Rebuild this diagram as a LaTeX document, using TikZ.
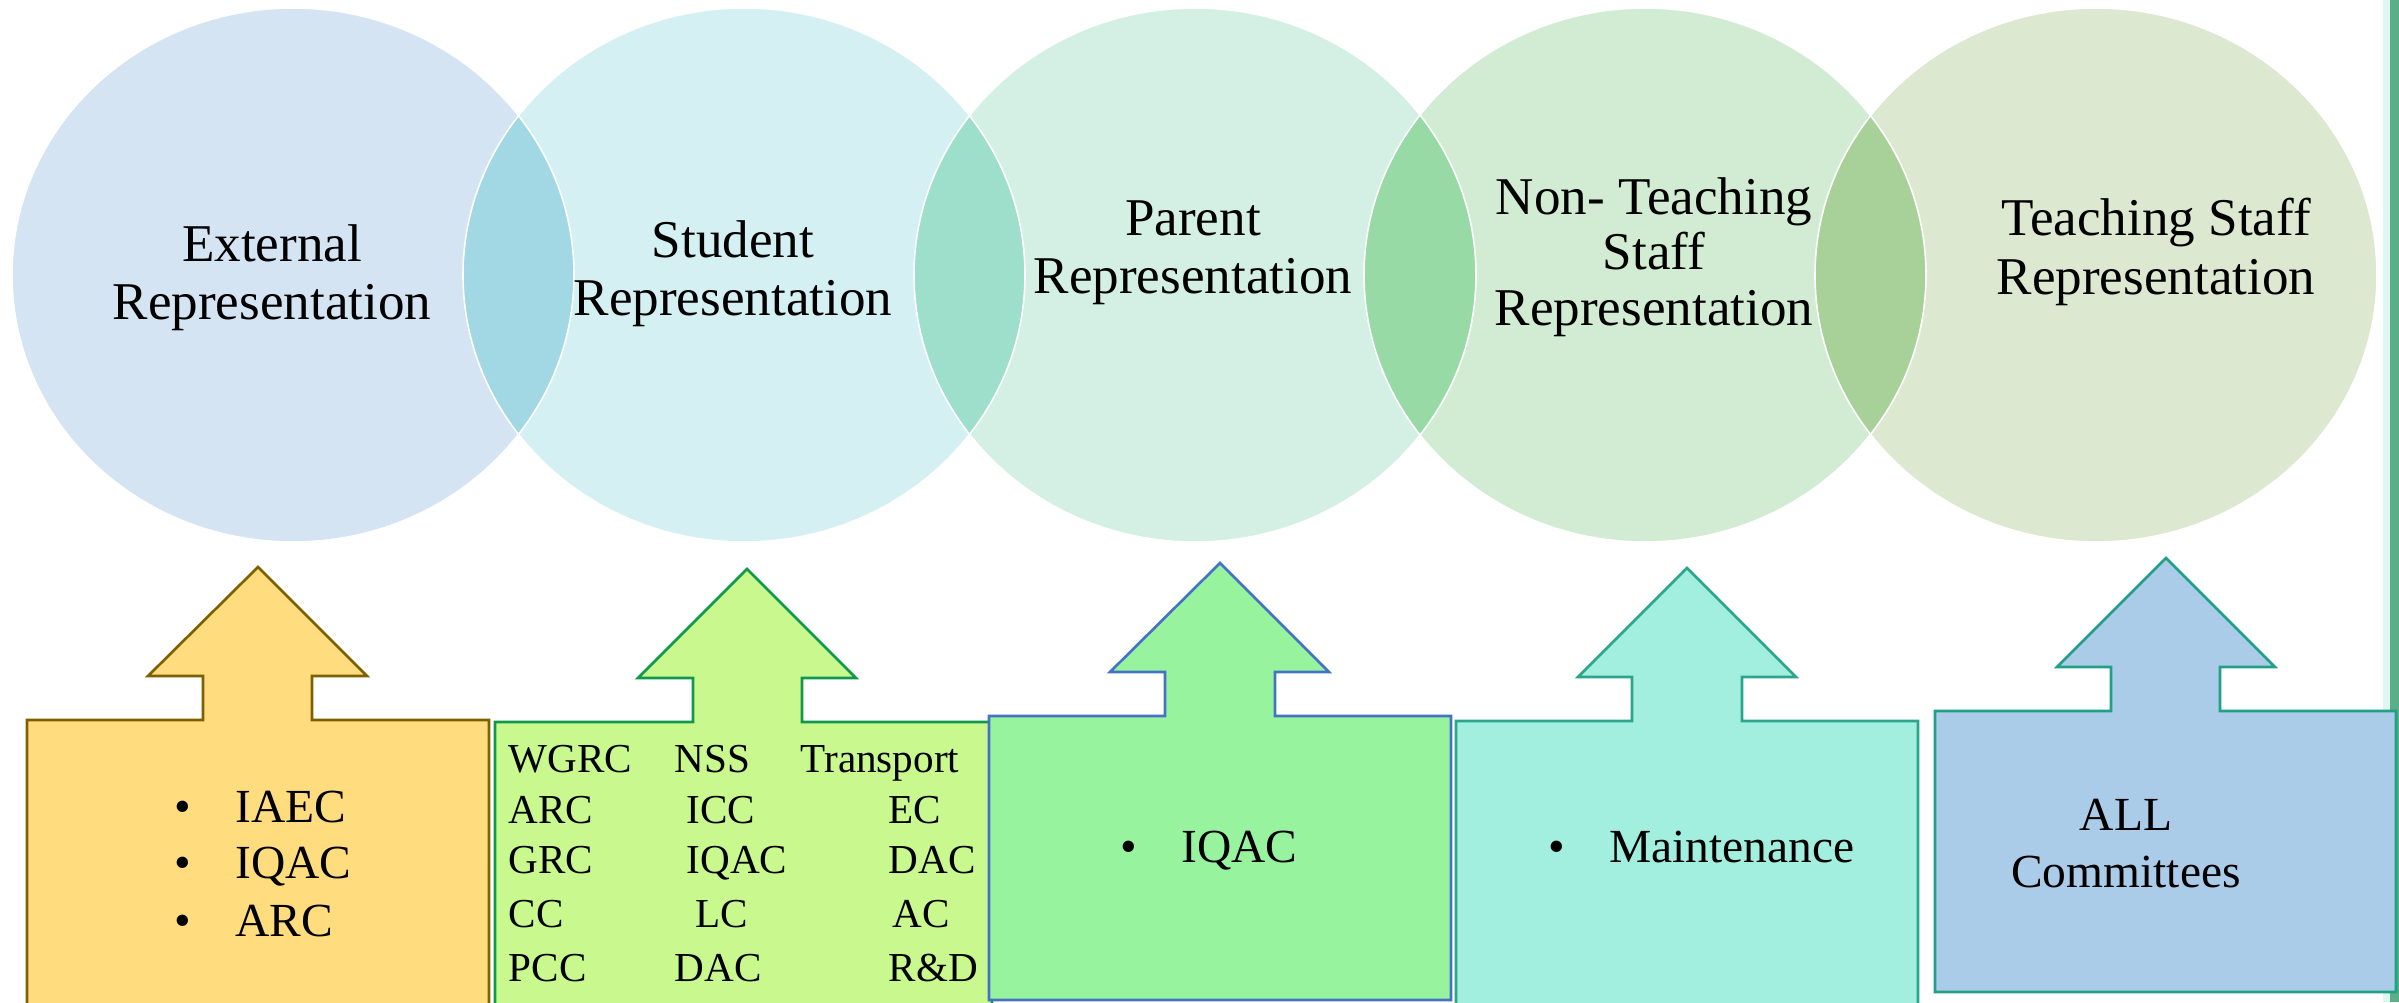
\documentclass[tikz,border=0pt]{standalone}
\usepackage{fontspec}
\setmainfont{Liberation Serif}
\definecolor{extfill}{HTML}{D4E4F2}
\definecolor{stufill}{HTML}{D4F0F2}
\definecolor{parfill}{HTML}{D4EFE3}
\definecolor{ntsfill}{HTML}{D2ECD3}
\definecolor{tsrfill}{HTML}{DCE8D0}
\definecolor{lensA}{HTML}{A2D8E4}
\definecolor{lensB}{HTML}{9DDFCA}
\definecolor{lensC}{HTML}{98DAA6}
\definecolor{lensD}{HTML}{A7D198}
\definecolor{yelfill}{HTML}{FFDC7E}
\definecolor{yeldraw}{HTML}{7F6000}
\definecolor{limefill}{HTML}{C8F88E}
\definecolor{limedraw}{HTML}{10994A}
\definecolor{grnfill}{HTML}{98F39F}
\definecolor{grndraw}{HTML}{4472C4}
\definecolor{aquafill}{HTML}{A2EEDF}
\definecolor{aquadraw}{HTML}{2BA58C}
\definecolor{bluefill}{HTML}{ABCCE8}
\definecolor{bluedraw}{HTML}{22A085}
\definecolor{edgegreen}{HTML}{5AAE88}
\definecolor{edgemint}{HTML}{DDF8EE}
\begin{document}
\begin{tikzpicture}[x=0.01cm,y=-0.01cm,
    reptext/.style={align=center,inner sep=0pt,font=\fontsize{15.1}{16.6}\selectfont},
    boxtext/.style={anchor=base west,inner sep=0pt,font=\fontsize{13.5}{16.2}\selectfont},
    gridtext/.style={anchor=base west,inner sep=0pt,font=\fontsize{11.7}{14}\selectfont},
    arrowbox/.style={line width=0.75pt,line join=miter}]
    \useasboundingbox (0,0) rectangle (2399,1002);
    \clip (0,0) rectangle (2399,1002);

    %%%%%%%%% Bordo %%%%%%%%%%
    \fill[edgemint] (2383,0) rectangle (2390,1002);
    \fill[edgegreen] (2390,0) rectangle (2399,1002);

    %%%%%%%%% Ellissi %%%%%%%%%%
    \fill[extfill] (293,275) ellipse [x radius=281,y radius=267];
    \fill[stufill] (744,275) ellipse [x radius=281,y radius=267];
    \fill[parfill] (1195,275) ellipse [x radius=281,y radius=267];
    \fill[ntsfill] (1645,275) ellipse [x radius=281,y radius=267];
    \fill[tsrfill] (2096,275) ellipse [x radius=281,y radius=267];
    \begin{scope}
        \clip (293,275) ellipse [x radius=281,y radius=267];
        \fill[lensA] (744,275) ellipse [x radius=281,y radius=267];
    \end{scope}
    \begin{scope}
        \clip (744,275) ellipse [x radius=281,y radius=267];
        \fill[lensB] (1195,275) ellipse [x radius=281,y radius=267];
    \end{scope}
    \begin{scope}
        \clip (1195,275) ellipse [x radius=281,y radius=267];
        \fill[lensC] (1645,275) ellipse [x radius=281,y radius=267];
    \end{scope}
    \begin{scope}
        \clip (1645,275) ellipse [x radius=281,y radius=267];
        \fill[lensD] (2096,275) ellipse [x radius=281,y radius=267];
    \end{scope}
    \foreach \cx in {293,744,1195,1645,2096}
        \draw[white,line width=0.45pt] (\cx,275) ellipse [x radius=281,y radius=267];

    %%%%%%%%% Testo ellissi %%%%%%%%%%
    \node[reptext] (ext) at (272,278) {External\\Representation};
    \node[reptext] (stu) at (733,274) {Student\\Representation};
    \node[reptext] (par) at (1193,253) {Parent\\Representation};
    \node[reptext,font=\fontsize{15.1}{15.8}\selectfont] (nts) at (1654,257) {Non- Teaching\\Staff\\Representation};
    \node[reptext] (tsr) at (2156,252) {Teaching Staff\\Representation};

    %%%%%%%%% Frecce %%%%%%%%%%
    \draw[arrowbox,draw=yeldraw,fill=yelfill] (27,1010) -- (27,720) -- (203,720) -- (203,676) -- (148,676) -- (258,567)
        -- (367,676) -- (312,676) -- (312,720) -- (489,720) -- (489,1010) -- cycle;
    \draw[arrowbox,draw=limedraw,fill=limefill] (495,1010) -- (495,722) -- (693,722) -- (693,678) -- (638,678) -- (747,569)
        -- (856,678) -- (802,678) -- (802,722) -- (992,722) -- (992,1010) -- cycle;
    \draw[arrowbox,draw=grndraw,fill=grnfill] (989,1000) -- (989,716) -- (1165,716) -- (1165,672) -- (1110,672) -- (1220,563)
        -- (1329,672) -- (1275,672) -- (1275,716) -- (1451,716) -- (1451,1000) -- cycle;
    \draw[arrowbox,draw=aquadraw,fill=aquafill] (1456,1010) -- (1456,721) -- (1632,721) -- (1632,677) -- (1578,677) -- (1687,568)
        -- (1796,677) -- (1742,677) -- (1742,721) -- (1918,721) -- (1918,1010) -- cycle;
    \draw[arrowbox,draw=bluedraw,fill=bluefill] (1935,992) -- (1935,711) -- (2111,711) -- (2111,667) -- (2057,667) -- (2166,558)
        -- (2275,667) -- (2220,667) -- (2220,711) -- (2396,711) -- (2396,992) -- cycle;

    %%%%%%%%% Testo riquadri %%%%%%%%%%
    \node[boxtext] (ext1) at (174,822) {\textbullet\hspace{12.5pt}IAEC};
    \node[boxtext] (ext2) at (174,878) {\textbullet\hspace{12.5pt}IQAC};
    \node[boxtext] (ext3) at (174,936) {\textbullet\hspace{12.5pt}ARC};

    \node[gridtext] (stu11) at (508,772) {WGRC};
    \node[gridtext] (stu12) at (674,772) {NSS};
    \node[gridtext] (stu13) at (800,772) {Transport};
    \node[gridtext] (stu21) at (508,823) {ARC};
    \node[gridtext] (stu22) at (686,823) {ICC};
    \node[gridtext] (stu23) at (888,823) {EC};
    \node[gridtext] (stu31) at (508,873) {GRC};
    \node[gridtext] (stu32) at (686,873) {IQAC};
    \node[gridtext] (stu33) at (888,873) {DAC};
    \node[gridtext] (stu41) at (508,927) {CC};
    \node[gridtext] (stu42) at (695,927) {LC};
    \node[gridtext] (stu43) at (892,927) {AC};
    \node[gridtext] (stu51) at (508,981) {PCC};
    \node[gridtext] (stu52) at (674,981) {DAC};
    \node[gridtext] (stu53) at (888,981) {R\&D};

    \node[boxtext] (par1) at (1120,862) {\textbullet\hspace{12.5pt}IQAC};
    \node[boxtext] (nts1) at (1548,862) {\textbullet\hspace{12.5pt}Maintenance};
    \node[boxtext,anchor=base] (tsr1) at (2126,830) {ALL};
    \node[boxtext,anchor=base] (tsr2) at (2126,887) {Committees};
\end{tikzpicture}
\end{document}
